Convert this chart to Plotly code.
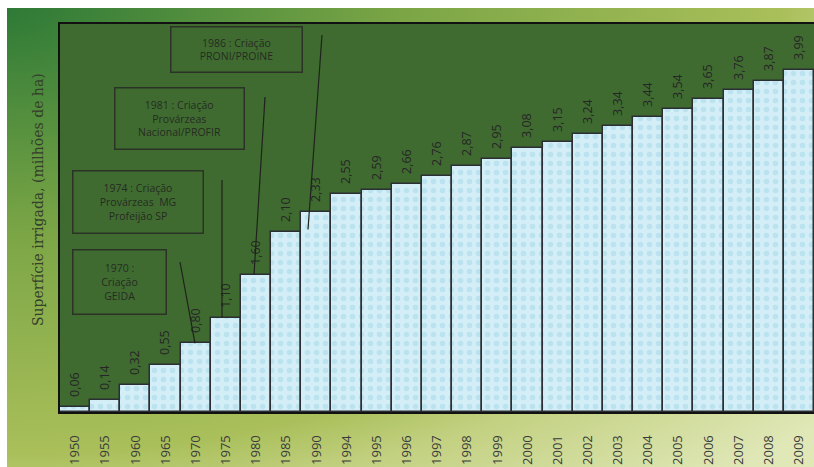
import base64
import plotly.graph_objects as go

# ---- data ----
years = ["1950", "1955", "1960", "1965", "1970", "1975", "1980", "1985", "1990",
         "1994", "1995", "1996", "1997", "1998", "1999", "2000", "2001", "2002",
         "2003", "2004", "2005", "2006", "2007", "2008", "2009"]
area = [0.06, 0.14, 0.32, 0.55, 0.80, 1.10, 1.60, 2.10, 2.33,
        2.55, 2.59, 2.66, 2.76, 2.87, 2.95, 3.08, 3.15, 3.24,
        3.34, 3.44, 3.54, 3.65, 3.76, 3.87, 3.99]
labels = ["\u2002" + f"{v:.2f}".replace(".", ",") for v in area]

y_title = "Superfície irrigada, (milhões de ha)"

# callout notes: text, target year
note_texts = ["1970 :<br>Criação<br>GEIDA",
              "1974 : Criação<br>Provárzeas  MG<br>Profeijão SP",
              "1981 : Criação<br>Provárzeas<br>Nacional/PROFIR",
              "1986 : Criação<br>PRONI/PROINE"]
note_years = ["1970", "1975", "1980", "1990"]

# ---- layout geometry (pixels) ----
W, H = 814, 467
ML, MR, MT, MB = 60, 0, 24, 55
PW, PH = W - ML - MR, H - MT - MB
YMAX = 4.53

def px_x(px):
    return (px - ML) / PW

def px_y(py):
    return (H - MB - py) / PH

def dx(px):  # pixel -> category coordinate
    return (px - ML) / (PW / len(years)) - 0.5

def dy(py):
    return (H - MB - py) / PH * YMAX

# box geometry: (center x, center y, width, height)
boxes = [(119, 281.5, 94, 65), (137.5, 201.5, 131, 63),
         (179, 118, 130, 62), (236, 50, 132, 46)]
# leader line start (px), end x (px), offset below bar top (value units)
leaders = [((180, 262), 195, 0.0), ((222, 180), 222, 0.0),
           ((265, 97), 254, 0.0), ((322, 35), 308, 0.2)]

# ---- background gradient (svg data uri) ----
svg = f'''<svg xmlns="http://www.w3.org/2000/svg" width="{W}" height="{H}" viewBox="0 0 {W} {H}">
<defs><radialGradient id="g" gradientUnits="userSpaceOnUse" cx="0" cy="0" r="1100" gradientTransform="scale(1,0.58)">
<stop offset="0" stop-color="#2b7836"/><stop offset="0.37" stop-color="#7ca646"/>
<stop offset="0.71" stop-color="#a9bf5a"/><stop offset="0.8" stop-color="#c3d182"/>
<stop offset="1" stop-color="#e0e8b8"/></radialGradient></defs>
<rect width="{W}" height="{H}" fill="#ffffff"/>
<rect x="7" y="8" width="{W}" height="{H}" fill="url(#g)"/></svg>'''
src = "data:image/svg+xml;base64," + base64.b64encode(svg.encode()).decode()

fig = go.Figure()
fig.add_trace(go.Bar(
    x=years, y=area, text=labels, textposition="outside", textangle=-90,
    constraintext="none", cliponaxis=False,
    textfont=dict(family="Open Sans", size=12.5, color="#262626"),
    marker=dict(color="#d3eef7", line=dict(color="#2b2f33", width=1.5),
                pattern=dict(shape=".", fgcolor="#a2d6e8", bgcolor="#d3eef7",
                             size=9, solidity=0.3, fillmode="overlay")),
    hoverinfo="skip", showlegend=False,
))

shapes = [dict(type="rect", xref="paper", yref="paper", x0=0, x1=1, y0=0, y1=1,
               fillcolor="#3f6b30", line=dict(width=0), layer="below")]
annotations = []
for txt, yr, (cx, cy, bw, bh), ((sx, sy), ex, off) in zip(note_texts, note_years, boxes, leaders):
    annotations.append(dict(
        text=txt, xref="paper", yref="paper", x=px_x(cx), y=px_y(cy),
        xanchor="center", yanchor="middle", showarrow=False, align="center",
        width=bw - 2, height=bh - 2, borderpad=0, bordercolor="#2a3325", borderwidth=1.5,
        font=dict(family="Open Sans", size=10.5, color="#262b22"),
    ))
    val = area[years.index(yr)]
    shapes.append(dict(type="line", xref="x", yref="y", x0=dx(sx), y0=dy(sy),
                       x1=dx(ex), y1=val - off, line=dict(color="#1f231c", width=1.2),
                       layer="above"))

annotations.append(dict(
    text=y_title, xref="paper", yref="paper", x=px_x(38), y=px_y(200),
    xanchor="center", yanchor="middle", textangle=-90, showarrow=False,
    font=dict(family="DejaVu Serif", size=14, color="#34402a"),
))

fig.update_layout(
    width=W, height=H, margin=dict(l=ML, r=MR, t=MT, b=MB),
    paper_bgcolor="#ffffff", plot_bgcolor="rgba(0,0,0,0)",
    bargap=0, shapes=shapes, annotations=annotations,
    images=[dict(source=src, xref="paper", yref="paper", x=-ML / PW, y=1 + MT / PH,
                 sizex=W / PW, sizey=H / PH, xanchor="left", yanchor="top",
                 sizing="stretch", layer="below")],
    xaxis=dict(type="category", range=[-0.5, len(years) - 0.5], tickangle=-90,
               tickfont=dict(family="Open Sans", size=13, color="#3a3a3a"),
               ticks="", ticklabelstandoff=16, showgrid=False, automargin=False,
               showline=True, linecolor="#111111", linewidth=2, mirror=True),
    yaxis=dict(range=[0, YMAX], showticklabels=False, ticks="", showgrid=False,
               zeroline=False, automargin=False,
               showline=True, linecolor="#111111", linewidth=2, mirror=True),
)

fig.write_html("out.html")
